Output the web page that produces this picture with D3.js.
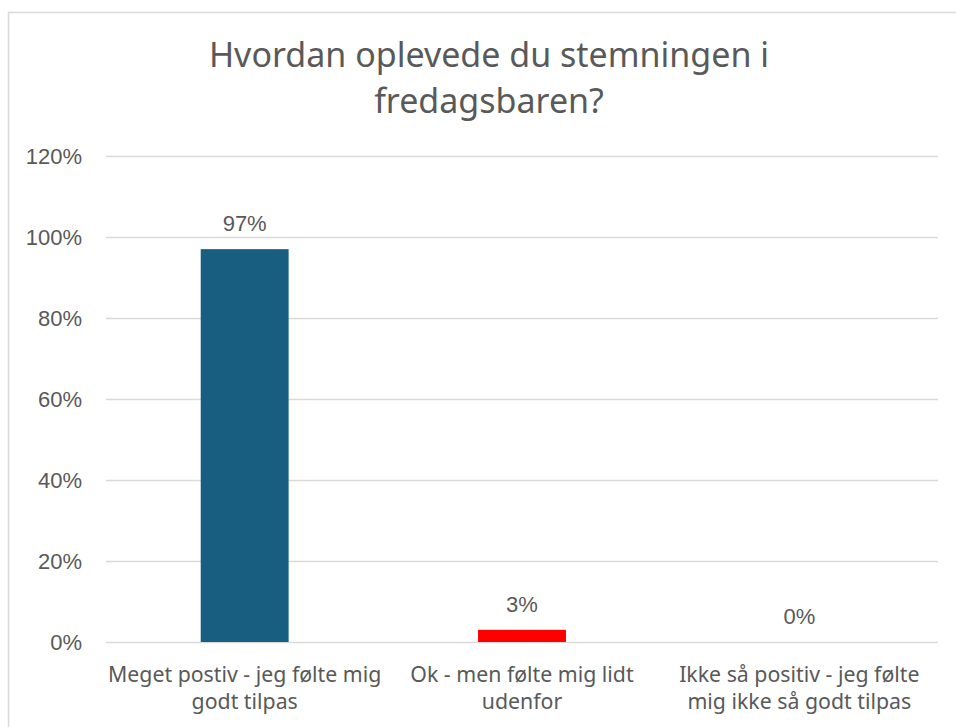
<!DOCTYPE html>
<html>
<head>
<meta charset="utf-8">
<script src="https://cdn.jsdelivr.net/npm/d3@7"></script>
<style>
  body { margin: 0; background: #fff; }
  svg text { fill: #595959; }
</style>
</head>
<body>
<div class="bar_chart"></div>
<script>
const titleLines = ['Hvordan oplevede du stemningen i', 'fredagsbaren?']
const categories = [
  ['Meget postiv - jeg følte mig', 'godt tilpas'],
  ['Ok - men følte mig lidt', 'udenfor'],
  ['Ikke så positiv - jeg følte', 'mig ikke så godt tilpas']
]
const values = [0.97, 0.03, 0]
const barColors = ['#175e80', '#ff0000', '#175e80']
const yTicks = [0, 0.2, 0.4, 0.6, 0.8, 1.0, 1.2]

const width = 956
const height = 727
const margin = {top: 156, right: 18, bottom: 85, left: 106}

const svg = d3.select('.bar_chart').append('svg')
  .attr('width', width)
  .attr('height', height)

// chart frame
svg.append('rect')
  .attr('x', 8.5).attr('y', 12.5)
  .attr('width', 980).attr('height', 740)
  .attr('fill', 'none')
  .attr('stroke', '#d9d9d9')
  .attr('stroke-width', 1.5)

const x = d3.scaleBand()
  .domain(d3.range(categories.length))
  .range([margin.left, width - margin.right])
  .paddingInner(0.683)
  .paddingOuter(0.3415)

const y = d3.scaleLinear()
  .domain([0, 1.2])
  .range([height - margin.bottom, margin.top])

const fmt = d3.format('.0%')

// grid + y labels
const yAxis = svg.append('g')
  .attr('transform', 'translate(' + margin.left + ',0)')
  .call(d3.axisLeft(y).tickValues(yTicks).tickFormat(fmt)
    .tickSize(-(width - margin.left - margin.right)).tickPadding(24))
yAxis.select('.domain').remove()
yAxis.selectAll('.tick line').attr('stroke', '#d9d9d9').attr('stroke-width', 1.5)
yAxis.selectAll('.tick text')
  .attr('font-family', 'Liberation Sans, Arial, sans-serif')
  .attr('font-size', 22)
  .attr('fill', '#595959')

// bars
svg.selectAll('.bar')
  .data(values)
  .enter().append('rect')
  .attr('class', 'bar')
  .attr('x', (d, i) => x(i))
  .attr('width', x.bandwidth())
  .attr('y', d => y(d))
  .attr('height', d => y(0) - y(d))
  .attr('fill', (d, i) => barColors[i])

// value labels
svg.selectAll('.val')
  .data(values)
  .enter().append('text')
  .attr('class', 'val')
  .attr('x', (d, i) => x(i) + x.bandwidth() / 2)
  .attr('y', d => y(d) - 18)
  .attr('text-anchor', 'middle')
  .attr('font-family', 'Liberation Sans, Arial, sans-serif')
  .attr('font-size', 22)
  .text(d => fmt(d))

// category labels
const cat = svg.selectAll('.cat')
  .data(categories)
  .enter().append('text')
  .attr('class', 'cat')
  .attr('text-anchor', 'middle')
  .attr('font-family', 'Noto Sans, sans-serif')
  .attr('font-size', 21.3)
cat.selectAll('tspan')
  .data((d, i) => d.map(t => ({t, i})))
  .enter().append('tspan')
  .attr('x', d => x(d.i) + x.bandwidth() / 2)
  .attr('y', (d, j) => y(0) + 40 + j * 26.5)
  .text(d => d.t)

// title
svg.append('text')
  .attr('text-anchor', 'middle')
  .attr('font-family', 'Noto Sans, sans-serif')
  .attr('font-size', 34)
  .selectAll('tspan')
  .data(titleLines)
  .enter().append('tspan')
  .attr('x', 489)
  .attr('y', (d, i) => 67 + i * 46)
  .text(d => d)
</script>
</body>
</html>
